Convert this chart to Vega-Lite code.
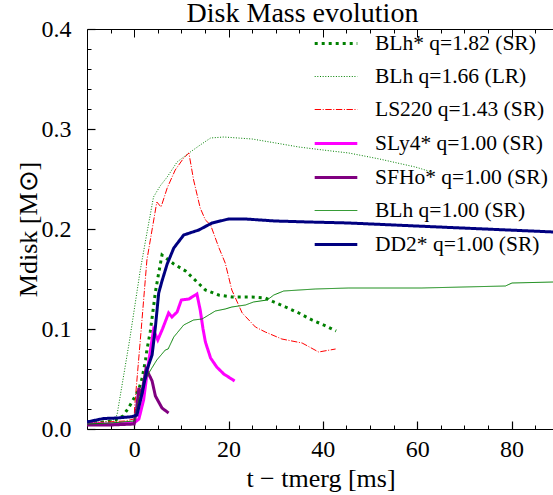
{
  "$schema": "https://vega.github.io/schema/vega-lite/v6.json",
  "width": 467,
  "height": 400,
  "autosize": "none",
  "padding": {"left": 87, "top": 29, "right": 0, "bottom": 66},
  "title": {"text": "Disk Mass evolution", "font": "Liberation Serif", "fontSize": 28, "fontWeight": "normal", "color": "black", "dx": -18, "offset": -11},
  "datasets": {
    "curves": [
      {"s": "BLh* q=1.82 (SR)", "t": -10, "m": 0.006}, {"s": "BLh* q=1.82 (SR)", "t": -6, "m": 0.007}, {"s": "BLh* q=1.82 (SR)", "t": -4, "m": 0.009}, {"s": "BLh* q=1.82 (SR)", "t": -2.4, "m": 0.013}, {"s": "BLh* q=1.82 (SR)", "t": -1.2, "m": 0.021}, {"s": "BLh* q=1.82 (SR)", "t": 0, "m": 0.031}, {"s": "BLh* q=1.82 (SR)", "t": 1.0, "m": 0.040}, {"s": "BLh* q=1.82 (SR)", "t": 1.7, "m": 0.051}, {"s": "BLh* q=1.82 (SR)", "t": 2.4, "m": 0.069}, {"s": "BLh* q=1.82 (SR)", "t": 2.7, "m": 0.079}, {"s": "BLh* q=1.82 (SR)", "t": 3.4, "m": 0.097}, {"s": "BLh* q=1.82 (SR)", "t": 4.1, "m": 0.122}, {"s": "BLh* q=1.82 (SR)", "t": 4.5, "m": 0.137}, {"s": "BLh* q=1.82 (SR)", "t": 5.2, "m": 0.156}, {"s": "BLh* q=1.82 (SR)", "t": 5.9, "m": 0.174}, {"s": "BLh* q=1.82 (SR)", "t": 7.0, "m": 0.170}, {"s": "BLh* q=1.82 (SR)", "t": 8.4, "m": 0.165}, {"s": "BLh* q=1.82 (SR)", "t": 10.9, "m": 0.158}, {"s": "BLh* q=1.82 (SR)", "t": 14.0, "m": 0.144}, {"s": "BLh* q=1.82 (SR)", "t": 15.1, "m": 0.139}, {"s": "BLh* q=1.82 (SR)", "t": 17.9, "m": 0.134}, {"s": "BLh* q=1.82 (SR)", "t": 20.7, "m": 0.132}, {"s": "BLh* q=1.82 (SR)", "t": 25, "m": 0.132}, {"s": "BLh* q=1.82 (SR)", "t": 27.8, "m": 0.131}, {"s": "BLh* q=1.82 (SR)", "t": 29.6, "m": 0.127}, {"s": "BLh* q=1.82 (SR)", "t": 32.1, "m": 0.122}, {"s": "BLh* q=1.82 (SR)", "t": 34.9, "m": 0.116}, {"s": "BLh* q=1.82 (SR)", "t": 37.7, "m": 0.109}, {"s": "BLh* q=1.82 (SR)", "t": 40.2, "m": 0.104}, {"s": "BLh* q=1.82 (SR)", "t": 42.8, "m": 0.098},

      {"s": "BLh q=1.66 (LR)", "t": -10, "m": 0.006}, {"s": "BLh q=1.66 (LR)", "t": -5, "m": 0.008}, {"s": "BLh q=1.66 (LR)", "t": -4, "m": 0.010}, {"s": "BLh q=1.66 (LR)", "t": -3.6, "m": 0.015}, {"s": "BLh q=1.66 (LR)", "t": -1, "m": 0.088}, {"s": "BLh q=1.66 (LR)", "t": 1.3, "m": 0.159}, {"s": "BLh q=1.66 (LR)", "t": 2.7, "m": 0.196}, {"s": "BLh q=1.66 (LR)", "t": 4.1, "m": 0.232}, {"s": "BLh q=1.66 (LR)", "t": 5.5, "m": 0.243}, {"s": "BLh q=1.66 (LR)", "t": 7.0, "m": 0.252}, {"s": "BLh q=1.66 (LR)", "t": 9.1, "m": 0.267}, {"s": "BLh q=1.66 (LR)", "t": 11.9, "m": 0.277}, {"s": "BLh q=1.66 (LR)", "t": 14, "m": 0.284}, {"s": "BLh q=1.66 (LR)", "t": 16.2, "m": 0.291}, {"s": "BLh q=1.66 (LR)", "t": 19, "m": 0.292}, {"s": "BLh q=1.66 (LR)", "t": 25, "m": 0.290}, {"s": "BLh q=1.66 (LR)", "t": 30, "m": 0.286}, {"s": "BLh q=1.66 (LR)", "t": 34.9, "m": 0.282}, {"s": "BLh q=1.66 (LR)", "t": 40, "m": 0.279}, {"s": "BLh q=1.66 (LR)", "t": 45.5, "m": 0.276}, {"s": "BLh q=1.66 (LR)", "t": 52, "m": 0.270}, {"s": "BLh q=1.66 (LR)", "t": 59.6, "m": 0.262}, {"s": "BLh q=1.66 (LR)", "t": 63.1, "m": 0.257},

      {"s": "LS220 q=1.43 (SR)", "t": -10, "m": 0.006}, {"s": "LS220 q=1.43 (SR)", "t": -2, "m": 0.008}, {"s": "LS220 q=1.43 (SR)", "t": 0, "m": 0.010}, {"s": "LS220 q=1.43 (SR)", "t": 0.1, "m": 0.022}, {"s": "LS220 q=1.43 (SR)", "t": 1.5, "m": 0.100}, {"s": "LS220 q=1.43 (SR)", "t": 2.7, "m": 0.169}, {"s": "LS220 q=1.43 (SR)", "t": 4.8, "m": 0.227}, {"s": "LS220 q=1.43 (SR)", "t": 5.7, "m": 0.222}, {"s": "LS220 q=1.43 (SR)", "t": 7.0, "m": 0.241}, {"s": "LS220 q=1.43 (SR)", "t": 8.7, "m": 0.259}, {"s": "LS220 q=1.43 (SR)", "t": 10.5, "m": 0.271}, {"s": "LS220 q=1.43 (SR)", "t": 11.6, "m": 0.276}, {"s": "LS220 q=1.43 (SR)", "t": 12.6, "m": 0.249}, {"s": "LS220 q=1.43 (SR)", "t": 14.0, "m": 0.221}, {"s": "LS220 q=1.43 (SR)", "t": 15.1, "m": 0.209}, {"s": "LS220 q=1.43 (SR)", "t": 16.2, "m": 0.204}, {"s": "LS220 q=1.43 (SR)", "t": 17.9, "m": 0.182}, {"s": "LS220 q=1.43 (SR)", "t": 19.3, "m": 0.166}, {"s": "LS220 q=1.43 (SR)", "t": 20.7, "m": 0.139}, {"s": "LS220 q=1.43 (SR)", "t": 22.9, "m": 0.116}, {"s": "LS220 q=1.43 (SR)", "t": 25.7, "m": 0.102}, {"s": "LS220 q=1.43 (SR)", "t": 27.8, "m": 0.097}, {"s": "LS220 q=1.43 (SR)", "t": 31.3, "m": 0.090}, {"s": "LS220 q=1.43 (SR)", "t": 35.6, "m": 0.086}, {"s": "LS220 q=1.43 (SR)", "t": 39.1, "m": 0.077}, {"s": "LS220 q=1.43 (SR)", "t": 42.7, "m": 0.080},

      {"s": "SLy4* q=1.00 (SR)", "t": -10, "m": 0.005}, {"s": "SLy4* q=1.00 (SR)", "t": -5, "m": 0.005}, {"s": "SLy4* q=1.00 (SR)", "t": 0, "m": 0.006}, {"s": "SLy4* q=1.00 (SR)", "t": 1.0, "m": 0.010}, {"s": "SLy4* q=1.00 (SR)", "t": 2.0, "m": 0.029}, {"s": "SLy4* q=1.00 (SR)", "t": 3.0, "m": 0.065}, {"s": "SLy4* q=1.00 (SR)", "t": 4.1, "m": 0.099}, {"s": "SLy4* q=1.00 (SR)", "t": 5.0, "m": 0.089}, {"s": "SLy4* q=1.00 (SR)", "t": 6.0, "m": 0.100}, {"s": "SLy4* q=1.00 (SR)", "t": 7.3, "m": 0.116}, {"s": "SLy4* q=1.00 (SR)", "t": 8.0, "m": 0.112}, {"s": "SLy4* q=1.00 (SR)", "t": 9.1, "m": 0.117}, {"s": "SLy4* q=1.00 (SR)", "t": 10.0, "m": 0.129}, {"s": "SLy4* q=1.00 (SR)", "t": 11.6, "m": 0.130}, {"s": "SLy4* q=1.00 (SR)", "t": 13.3, "m": 0.135}, {"s": "SLy4* q=1.00 (SR)", "t": 14.0, "m": 0.119}, {"s": "SLy4* q=1.00 (SR)", "t": 14.6, "m": 0.100}, {"s": "SLy4* q=1.00 (SR)", "t": 15.1, "m": 0.087}, {"s": "SLy4* q=1.00 (SR)", "t": 16.2, "m": 0.071}, {"s": "SLy4* q=1.00 (SR)", "t": 17.5, "m": 0.062}, {"s": "SLy4* q=1.00 (SR)", "t": 19, "m": 0.055}, {"s": "SLy4* q=1.00 (SR)", "t": 21.3, "m": 0.048},

      {"s": "SFHo* q=1.00 (SR)", "t": -10, "m": 0.004}, {"s": "SFHo* q=1.00 (SR)", "t": -5, "m": 0.004}, {"s": "SFHo* q=1.00 (SR)", "t": 0, "m": 0.005}, {"s": "SFHo* q=1.00 (SR)", "t": 0.5, "m": 0.020}, {"s": "SFHo* q=1.00 (SR)", "t": 1.0, "m": 0.041}, {"s": "SFHo* q=1.00 (SR)", "t": 1.5, "m": 0.033}, {"s": "SFHo* q=1.00 (SR)", "t": 2.5, "m": 0.060}, {"s": "SFHo* q=1.00 (SR)", "t": 3.4, "m": 0.052}, {"s": "SFHo* q=1.00 (SR)", "t": 3.8, "m": 0.048}, {"s": "SFHo* q=1.00 (SR)", "t": 4.5, "m": 0.033}, {"s": "SFHo* q=1.00 (SR)", "t": 5.9, "m": 0.021}, {"s": "SFHo* q=1.00 (SR)", "t": 7.3, "m": 0.016},

      {"s": "BLh q=1.00 (SR)", "t": -10, "m": 0.005}, {"s": "BLh q=1.00 (SR)", "t": -5, "m": 0.006}, {"s": "BLh q=1.00 (SR)", "t": 0, "m": 0.008}, {"s": "BLh q=1.00 (SR)", "t": 1, "m": 0.029}, {"s": "BLh q=1.00 (SR)", "t": 2, "m": 0.045}, {"s": "BLh q=1.00 (SR)", "t": 3.1, "m": 0.056}, {"s": "BLh q=1.00 (SR)", "t": 4.8, "m": 0.069}, {"s": "BLh q=1.00 (SR)", "t": 6.6, "m": 0.079}, {"s": "BLh q=1.00 (SR)", "t": 7.2, "m": 0.080}, {"s": "BLh q=1.00 (SR)", "t": 8.4, "m": 0.092}, {"s": "BLh q=1.00 (SR)", "t": 10.5, "m": 0.104}, {"s": "BLh q=1.00 (SR)", "t": 12.6, "m": 0.109}, {"s": "BLh q=1.00 (SR)", "t": 14.4, "m": 0.110}, {"s": "BLh q=1.00 (SR)", "t": 15.8, "m": 0.114}, {"s": "BLh q=1.00 (SR)", "t": 17.2, "m": 0.118}, {"s": "BLh q=1.00 (SR)", "t": 19.3, "m": 0.120}, {"s": "BLh q=1.00 (SR)", "t": 20.7, "m": 0.122}, {"s": "BLh q=1.00 (SR)", "t": 23.6, "m": 0.124}, {"s": "BLh q=1.00 (SR)", "t": 25.3, "m": 0.127}, {"s": "BLh q=1.00 (SR)", "t": 28.2, "m": 0.129}, {"s": "BLh q=1.00 (SR)", "t": 29.6, "m": 0.134}, {"s": "BLh q=1.00 (SR)", "t": 31.7, "m": 0.138}, {"s": "BLh q=1.00 (SR)", "t": 38.4, "m": 0.140}, {"s": "BLh q=1.00 (SR)", "t": 45.5, "m": 0.141}, {"s": "BLh q=1.00 (SR)", "t": 61, "m": 0.141}, {"s": "BLh q=1.00 (SR)", "t": 78.7, "m": 0.143}, {"s": "BLh q=1.00 (SR)", "t": 80.1, "m": 0.146}, {"s": "BLh q=1.00 (SR)", "t": 89, "m": 0.147},

      {"s": "DD2* q=1.00 (SR)", "t": -10, "m": 0.007}, {"s": "DD2* q=1.00 (SR)", "t": -6.5, "m": 0.0105}, {"s": "DD2* q=1.00 (SR)", "t": -3.6, "m": 0.011}, {"s": "DD2* q=1.00 (SR)", "t": -0.5, "m": 0.0123}, {"s": "DD2* q=1.00 (SR)", "t": 0.6, "m": 0.014}, {"s": "DD2* q=1.00 (SR)", "t": 1.7, "m": 0.036}, {"s": "DD2* q=1.00 (SR)", "t": 2.7, "m": 0.059}, {"s": "DD2* q=1.00 (SR)", "t": 3.8, "m": 0.074}, {"s": "DD2* q=1.00 (SR)", "t": 4.5, "m": 0.102}, {"s": "DD2* q=1.00 (SR)", "t": 5.2, "m": 0.136}, {"s": "DD2* q=1.00 (SR)", "t": 5.9, "m": 0.148}, {"s": "DD2* q=1.00 (SR)", "t": 7.0, "m": 0.165}, {"s": "DD2* q=1.00 (SR)", "t": 8.4, "m": 0.181}, {"s": "DD2* q=1.00 (SR)", "t": 10.5, "m": 0.194}, {"s": "DD2* q=1.00 (SR)", "t": 13.7, "m": 0.199}, {"s": "DD2* q=1.00 (SR)", "t": 16.5, "m": 0.206}, {"s": "DD2* q=1.00 (SR)", "t": 20, "m": 0.210}, {"s": "DD2* q=1.00 (SR)", "t": 23.6, "m": 0.210}, {"s": "DD2* q=1.00 (SR)", "t": 29.9, "m": 0.208}, {"s": "DD2* q=1.00 (SR)", "t": 37, "m": 0.207}, {"s": "DD2* q=1.00 (SR)", "t": 45.5, "m": 0.206}, {"s": "DD2* q=1.00 (SR)", "t": 64.6, "m": 0.202}, {"s": "DD2* q=1.00 (SR)", "t": 89, "m": 0.197}
    ]
  },
  "data": {"name": "curves"},
  "layer": [
    {
      "mark": {"type": "line", "clip": true},
      "encoding": {
        "x": {"field": "t", "type": "quantitative",
          "scale": {"domain": [-10, 89], "nice": false, "zero": false},
          "axis": {"orient": "bottom", "title": "t − tmerg [ms]", "values": [0, 20, 40, 60, 80], "format": "d",
            "domain": false, "ticks": true, "tickColor": "black", "tickOpacity": 1, "tickWidth": 1.2, "tickSize": 8, "offset": -8, "labelPadding": 8, "titlePadding": 4}},
        "y": {"field": "m", "type": "quantitative",
          "scale": {"domain": [0, 0.4], "nice": false},
          "axis": {"orient": "left", "title": "Mdisk [M⊙]", "values": [0, 0.1, 0.2, 0.3, 0.4], "format": ".1f",
            "domain": false, "ticks": true, "tickColor": "black", "tickOpacity": 1, "tickWidth": 1.2, "tickSize": 8, "offset": -8, "labelPadding": 16, "titlePadding": 0}},
        "color": {"field": "s", "type": "nominal",
          "scale": {"domain": ["BLh* q=1.82 (SR)", "BLh q=1.66 (LR)", "LS220 q=1.43 (SR)", "SLy4* q=1.00 (SR)", "SFHo* q=1.00 (SR)", "BLh q=1.00 (SR)", "DD2* q=1.00 (SR)"],
            "range": ["#008000", "#008000", "#ff0000", "#ff00ff", "#800080", "#008000", "#000080"]},
          "legend": {"title": null}},
        "strokeDash": {"field": "s", "type": "nominal",
          "scale": {"domain": ["BLh* q=1.82 (SR)", "BLh q=1.66 (LR)", "LS220 q=1.43 (SR)", "SLy4* q=1.00 (SR)", "SFHo* q=1.00 (SR)", "BLh q=1.00 (SR)", "DD2* q=1.00 (SR)"],
            "range": [[3, 4], [1, 1.65], [6.4, 1.6, 1, 1.6], [1, 0], [1, 0], [1, 0], [1, 0]]},
          "legend": {"title": null}},
        "strokeWidth": {"field": "s", "type": "nominal",
          "scale": {"type": "ordinal", "domain": ["BLh* q=1.82 (SR)", "BLh q=1.66 (LR)", "LS220 q=1.43 (SR)", "SLy4* q=1.00 (SR)", "SFHo* q=1.00 (SR)", "BLh q=1.00 (SR)", "DD2* q=1.00 (SR)"],
            "range": [3, 1, 1, 3, 3, 1, 3]},
          "legend": {"title": null}}
      }
    },
    {
      "mark": {"type": "line", "opacity": 0},
      "encoding": {
        "x": {"field": "t", "type": "quantitative",
          "axis": {"orient": "top", "title": null, "labels": false, "domain": false, "ticks": true, "tickColor": "black", "tickOpacity": 1,
            "values": [-5, 0, 5, 10, 15, 20, 25, 30, 35, 40, 45, 50, 55, 60, 65, 70, 75, 80, 85],
            "tickSize": 4, "offset": -4}},
        "y": {"field": "m", "type": "quantitative",
          "axis": {"orient": "left", "title": null, "labels": false, "domain": false, "ticks": true, "tickColor": "black", "tickOpacity": 1,
            "values": [0.02, 0.04, 0.06, 0.08, 0.12, 0.14, 0.16, 0.18, 0.22, 0.24, 0.26, 0.28, 0.32, 0.34, 0.36, 0.38],
            "tickSize": 4, "offset": -4}},
        "detail": {"field": "s", "type": "nominal"}
      }
    },
    {
      "mark": {"type": "line", "opacity": 0},
      "encoding": {
        "x": {"field": "t", "type": "quantitative",
          "axis": {"orient": "bottom", "title": null, "labels": false, "domain": false, "ticks": true, "tickColor": "black", "tickOpacity": 1,
            "values": [-5, 5, 10, 15, 25, 30, 35, 45, 50, 55, 65, 70, 75, 85],
            "tickSize": 4, "offset": -4}},
        "y": {"field": "m", "type": "quantitative", "axis": null},
        "detail": {"field": "s", "type": "nominal"}
      }
    },
    {
      "mark": {"type": "line", "opacity": 0},
      "encoding": {
        "x": {"field": "t", "type": "quantitative",
          "axis": {"orient": "top", "title": null, "labels": false, "domain": false, "ticks": true, "tickColor": "black", "tickOpacity": 1,
            "values": [0, 20, 40, 60, 80],
            "tickSize": 8, "offset": -8}},
        "y": {"field": "m", "type": "quantitative", "axis": null},
        "detail": {"field": "s", "type": "nominal"}
      }
    }
  ],
  "resolve": {"axis": {"x": "independent", "y": "independent"}},
  "config": {
    "view": {"stroke": "black", "strokeWidth": 1},
    "axis": {"tickColor": "black", "tickWidth": 1, "grid": false, "ticks": true,
      "labelFont": "Liberation Serif", "labelFontSize": 24, "labelColor": "black",
      "titleFont": "Liberation Serif", "titleFontSize": 26, "titleFontWeight": "normal", "titleColor": "black", "labelFlush": false, "labelOverlap": false},
    "legend": {"orient": "none", "legendX": 226, "legendY": -8.5, "padding": 0,
      "labelFont": "Liberation Serif", "labelFontSize": 21.5, "labelColor": "black", "labelOffset": 16,
      "symbolType": "stroke", "symbolSize": 1816, "rowPadding": 0, "labelLimit": 400}
  }
}
